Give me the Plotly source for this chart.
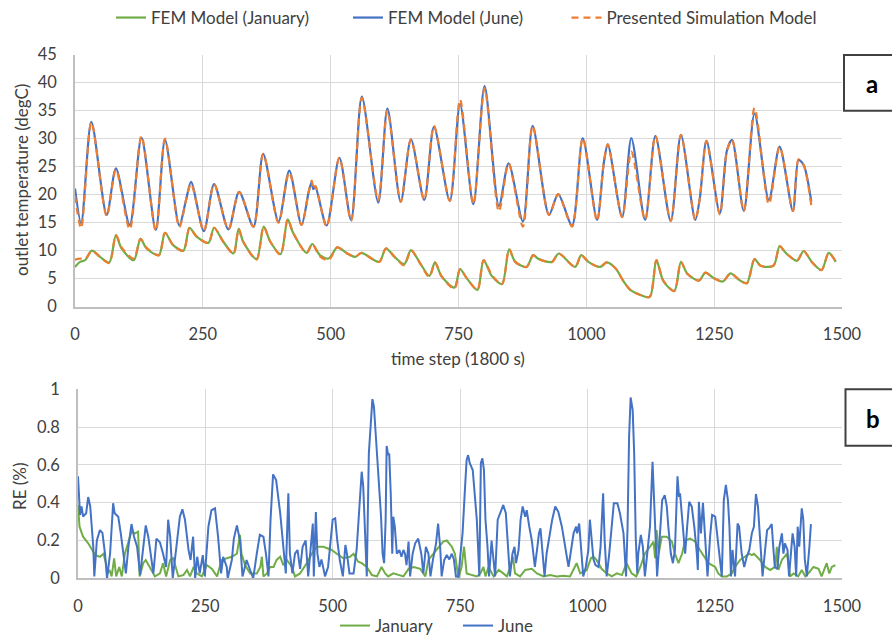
import plotly.graph_objects as go

# ---------------- Data ----------------
# Panel a: outlet temperature (degC)
june_x = [0, 12, 32, 62, 80, 107, 130, 158, 176, 204, 217, 227, 252, 272, 300, 321, 349, 368, 398, 419,
          443, 457, 463, 466, 470, 492, 517, 540, 561, 593, 611, 637, 657, 683, 702, 733, 753, 779, 801, 829,
          848, 876, 895, 927, 945, 972, 993, 1021, 1034, 1042, 1070, 1088, 1115, 1135, 1165, 1185, 1213, 1222,
          1235, 1261, 1275, 1285, 1308, 1329, 1357, 1378, 1404, 1415, 1425, 1440]
june_fem = [21.1, 14.9, 33.0, 16.4, 24.7, 14.6, 30.2, 13.7, 29.8, 14.5, 19.0, 22.3, 13.5, 21.9, 13.8, 20.5,
            14.3, 27.3, 15.2, 24.3, 14.6, 20.5, 22.3, 21.0, 21.4, 14.5, 26.6, 15.5, 37.5, 18.6, 35.4, 18.75,
            29.9, 19.05, 32.1, 18.9, 36.2, 18.3, 39.4, 18.0, 25.6, 15.2, 32.3, 16.4, 20.1, 14.5, 30.1, 15.5,
            25.6, 29.0, 16.0, 30.1, 15.5, 30.5, 15.3, 30.7, 15.5, 19.4, 29.6, 16.7, 27.9, 29.8, 17.1, 34.5,
            19.05, 28.6, 17.1, 26.2, 25.3, 18.75]
june_sim = [19.8, 14.0, 33.0, 16.2, 24.5, 13.8, 30.5, 13.5, 30.0, 14.2, 19.0, 22.0, 13.5, 21.9, 13.8, 20.5,
            14.3, 27.3, 15.0, 24.0, 14.6, 20.5, 22.5, 21.0, 21.6, 14.3, 26.6, 15.3, 37.3, 19.0, 35.0, 18.75,
            29.9, 19.05, 32.3, 18.9, 37.0, 18.3, 39.0, 17.0, 25.6, 14.3, 32.3, 16.4, 20.1, 14.3, 30.1, 15.3,
            25.6, 29.0, 16.0, 27.7, 15.5, 30.5, 15.3, 30.7, 15.5, 19.4, 29.6, 16.5, 27.9, 29.8, 17.1, 35.5,
            18.3, 28.6, 17.1, 26.3, 25.3, 18.0]

jan_x = [0, 10, 20, 33, 49, 67, 80, 91, 115, 128, 140, 164, 176, 192, 212, 224, 238, 261, 272, 290,
         310, 320, 329, 355, 369, 382, 402, 416, 427, 453, 464, 479, 496, 513, 531, 548, 560, 595, 608, 626,
         644, 657, 675, 693, 704, 717, 742, 753, 766, 787, 799, 815, 835, 849, 861, 883, 896, 907, 933, 946,
         978, 990, 1004, 1027, 1040, 1057, 1073, 1086, 1106, 1124, 1137, 1151, 1172, 1185, 1197, 1220, 1233,
         1249, 1267, 1282, 1301, 1314, 1329, 1341, 1366, 1378, 1390, 1412, 1425, 1441, 1460, 1474, 1488]
jan_fem = [7.1, 8.0, 8.3, 10.0, 8.9, 7.9, 12.8, 10.4, 8.3, 12.1, 10.4, 9.2, 13.2, 11.0, 10.0, 14.1, 12.5,
           11.4, 14.1, 11.6, 9.5, 13.9, 11.6, 8.5, 14.3, 11.6, 9.4, 15.6, 13.1, 9.6, 11.2, 9.2, 8.6, 10.6,
           9.6, 8.9, 9.6, 8.0, 10.4, 8.8, 7.6, 10.1, 7.75, 5.5, 7.9, 5.4, 3.4, 6.7, 5.1, 3.0, 8.3, 5.5, 4.05,
           10.25, 8.0, 7.1, 9.2, 8.5, 8.0, 9.5, 7.1, 9.2, 8.0, 7.1, 7.9, 6.85, 4.5, 3.0, 2.1, 1.7, 8.3, 4.5,
           2.8, 8.0, 5.95, 4.65, 6.1, 5.1, 4.5, 5.95, 4.65, 4.2, 8.5, 7.3, 7.3, 10.8, 9.6, 8.2, 9.95, 8.0,
           6.55, 9.6, 8.0]
jan_sim = [8.4, 8.6, 8.5, 10.0, 8.9, 7.8, 12.8, 10.6, 8.6, 12.1, 10.5, 9.2, 13.2, 11.0, 10.0, 14.1, 12.5,
           11.4, 14.1, 11.6, 9.4, 13.9, 11.6, 8.4, 14.3, 11.6, 9.3, 15.6, 13.1, 9.6, 11.2, 9.0, 8.3, 10.6,
           9.6, 8.9, 9.6, 8.0, 10.4, 8.8, 7.4, 10.1, 7.75, 5.3, 7.9, 5.4, 3.2, 6.7, 5.1, 3.0, 8.3, 5.7, 4.0,
           10.25, 8.0, 7.1, 9.2, 8.5, 8.0, 9.5, 7.1, 9.2, 8.0, 7.1, 7.9, 6.85, 4.5, 3.0, 2.1, 1.8, 8.3, 4.6,
           2.8, 8.0, 5.95, 4.65, 6.1, 5.1, 4.5, 5.95, 4.65, 4.2, 8.5, 7.3, 7.4, 10.8, 9.6, 8.2, 9.95, 8.0,
           6.55, 9.6, 8.0]

# Panel b: relative error RE (%)
re_june_x = [0, 4, 7, 10, 16, 20, 24, 27, 30, 32, 37, 43, 48, 53, 57, 63, 69, 72, 79, 84, 89, 94, 99, 105,
             110, 116, 122, 127, 133, 138, 143, 148, 154, 161, 167, 173, 177, 181, 186, 194, 200, 205, 210,
             217, 221, 226, 230, 234, 239, 245, 249, 256, 262, 269, 275, 281, 285, 292, 294, 302, 306, 312,
             318, 323, 331, 338, 344, 351, 357, 364, 369, 374, 378, 383, 389, 397, 403, 408, 413, 416, 421,
             426, 431, 436, 441, 447, 452, 457, 461, 463, 467, 470, 474, 478, 485, 491, 496, 500, 505, 509,
             514, 520, 525, 528, 533, 541, 547, 552, 557, 560, 563, 567, 571, 575, 578, 581, 586, 592, 595,
             598, 601, 604, 606, 609, 611, 614, 617, 619, 622, 626, 631, 635, 639, 642, 645, 649, 652, 657,
             662, 668, 674, 678, 683, 688, 692, 697, 703, 707, 711, 714, 719, 724, 729, 734, 738, 742, 747,
             751, 755, 760, 763, 766, 769, 775, 779, 783, 786, 788, 791, 794, 797, 800, 804, 807, 812, 815,
             819, 824, 829, 835, 840, 844, 848, 853, 857, 860, 865, 869, 873, 878, 881, 886, 891, 894, 897,
             902, 905, 908, 912, 916, 920, 926, 931, 937, 943, 950, 956, 963, 967, 973, 978, 980, 984, 989,
             992, 997, 1002, 1005, 1009, 1012, 1016, 1022, 1026, 1031, 1034, 1038, 1043, 1048, 1052, 1059,
             1064, 1071, 1074, 1076, 1079, 1082, 1085, 1089, 1092, 1095, 1098, 1100, 1105, 1109, 1113, 1118,
             1123, 1128, 1131, 1134, 1137, 1143, 1147, 1152, 1156, 1159, 1164, 1168, 1172, 1177, 1180, 1182,
             1185, 1188, 1192, 1196, 1200, 1205, 1210, 1215, 1217, 1219, 1223, 1227, 1231, 1236, 1241, 1245,
             1251, 1255, 1259, 1264, 1268, 1272, 1276, 1279, 1282, 1285, 1290, 1295, 1298, 1303, 1308, 1313,
             1318, 1323, 1327, 1331, 1335, 1338, 1341, 1344, 1349, 1353, 1357, 1362, 1365, 1368, 1373, 1377,
             1382, 1385, 1388, 1393, 1396, 1400, 1403, 1407, 1410, 1413, 1416, 1421, 1424, 1427, 1431, 1436,
             1439]
re_june = [0.54, 0.335, 0.38, 0.326, 0.344, 0.43, 0.38, 0.29, 0.167, 0.01, 0.2, 0.255, 0.24, 0.13, 0.0,
           0.13, 0.397, 0.344, 0.326, 0.238, 0.13, 0.026, 0.167, 0.287, 0.22, 0.167, 0.017, 0.13, 0.28, 0.22,
           0.13, 0.026, 0.21, 0.19, 0.13, 0.06, 0.31, 0.22, 0.0, 0.2, 0.326, 0.365, 0.31, 0.15, 0.097, 0.22,
           0.0, 0.114, 0.026, 0.123, 0.01, 0.273, 0.36, 0.37, 0.22, 0.026, 0.114, 0.06, 0.0, 0.097, 0.21,
           0.28, 0.2, 0.01, 0.097, 0.044, 0.0, 0.13, 0.23, 0.22, 0.13, 0.01, 0.31, 0.55, 0.52, 0.344, 0.167,
           0.026, 0.45, 0.13, 0.026, 0.13, 0.15, 0.05, 0.167, 0.2, 0.01, 0.16, 0.29, 0.01, 0.35, 0.13, 0.06,
           0.1, 0.01, 0.06, 0.22, 0.31, 0.317, 0.2, 0.097, 0.01, 0.176, 0.13, 0.026, 0.026, 0.15, 0.38, 0.564,
           0.485, 0.273, 0.01, 0.66, 0.855, 0.948, 0.91, 0.7, 0.467, 0.326, 0.13, 0.08, 0.31, 0.7, 0.652,
           0.66, 0.45, 0.13, 0.326, 0.273, 0.13, 0.15, 0.114, 0.15, 0.13, 0.07, 0.194, 0.01, 0.13, 0.185,
           0.21, 0.13, 0.026, 0.167, 0.13, 0.01, 0.1, 0.185, 0.29, 0.167, 0.01, 0.097, 0.123, 0.1, 0.13, 0.1,
           0.01, 0.01, 0.13, 0.238, 0.485, 0.626, 0.652, 0.61, 0.573, 0.45, 0.31, 0.13, 0.01, 0.61, 0.635,
           0.573, 0.31, 0.167, 0.01, 0.2, 0.13, 0.01, 0.31, 0.344, 0.388, 0.344, 0.167, 0.01, 0.13, 0.167,
           0.08, 0.15, 0.31, 0.38, 0.326, 0.36, 0.273, 0.2, 0.13, 0.06, 0.167, 0.238, 0.265, 0.13, 0.01,
           0.13, 0.238, 0.31, 0.38, 0.352, 0.273, 0.167, 0.06, 0.13, 0.238, 0.273, 0.238, 0.29, 0.13, 0.01,
           0.06, 0.15, 0.31, 0.167, 0.1, 0.07, 0.06, 0.167, 0.45, 0.2, 0.01, 0.13, 0.273, 0.397, 0.397,
           0.344, 0.238, 0.13, 0.01, 0.273, 0.75, 0.957, 0.89, 0.66, 0.22, 0.026, 0.13, 0.23, 0.167, 0.01,
           0.13, 0.273, 0.617, 0.45, 0.22, 0.01, 0.255, 0.414, 0.44, 0.38, 0.273, 0.13, 0.08, 0.15, 0.54,
           0.43, 0.45, 0.365, 0.273, 0.13, 0.273, 0.405, 0.38, 0.273, 0.13, 0.044, 0.405, 0.238, 0.4, 0.2,
           0.01, 0.22, 0.335, 0.326, 0.22, 0.13, 0.01, 0.414, 0.494, 0.414, 0.273, 0.01, 0.15, 0.01, 0.29,
           0.273, 0.13, 0.06, 0.114, 0.15, 0.238, 0.273, 0.446, 0.38, 0.238, 0.13, 0.01, 0.15, 0.255, 0.265,
           0.287, 0.167, 0.06, 0.05, 0.167, 0.238, 0.13, 0.185, 0.15, 0.01, 0.13, 0.238, 0.167, 0.01, 0.273,
           0.167, 0.37, 0.31, 0.1, 0.01, 0.167, 0.287]

re_jan_x = [0, 3, 10, 20, 28, 33, 43, 50, 55, 58, 62, 66, 71, 75, 81, 86, 92, 99, 105, 112, 118, 121, 128,
            133, 141, 151, 161, 167, 173, 181, 187, 197, 207, 214, 220, 227, 233, 243, 253, 263, 273, 282,
            292, 302, 312, 318, 321, 328, 338, 351, 358, 361, 364, 371, 377, 384, 390, 397, 403, 410, 420,
            426, 436, 449, 459, 469, 482, 492, 498, 508, 521, 534, 541, 550, 557, 567, 577, 587, 596, 603,
            609, 619, 629, 639, 649, 659, 672, 682, 688, 698, 708, 717, 724, 734, 740, 747, 753, 758, 763,
            773, 783, 790, 796, 800, 806, 816, 826, 835, 842, 849, 854, 858, 868, 878, 891, 901, 914, 927,
            940, 953, 966, 979, 986, 999, 1007, 1012, 1018, 1028, 1038, 1048, 1058, 1068, 1077, 1087, 1096,
            1104, 1113, 1123, 1130, 1133, 1136, 1140, 1146, 1156, 1166, 1172, 1179, 1186, 1192, 1202, 1212,
            1221, 1231, 1238, 1251, 1257, 1264, 1274, 1284, 1290, 1300, 1310, 1318, 1323, 1327, 1333, 1339,
            1349, 1359, 1369, 1372, 1375, 1382, 1392, 1398, 1405, 1414, 1421, 1428, 1434, 1444, 1454, 1460,
            1470, 1475, 1480, 1487]
re_jan = [0.388, 0.273, 0.22, 0.185, 0.15, 0.123, 0.114, 0.13, 0.08, 0.026, 0.044, 0.01, 0.106, 0.01,
          0.06, 0.01, 0.13, 0.2, 0.247, 0.238, 0.247, 0.01, 0.08, 0.097, 0.06, 0.01, 0.026, 0.08, 0.01,
          0.097, 0.106, 0.01, 0.017, 0.044, 0.01, 0.06, 0.026, 0.01, 0.07, 0.05, 0.01, 0.097, 0.106, 0.114,
          0.13, 0.23, 0.13, 0.07, 0.026, 0.026, 0.06, 0.114, 0.01, 0.026, 0.06, 0.06, 0.097, 0.114, 0.07,
          0.097, 0.06, 0.01, 0.026, 0.08, 0.13, 0.167, 0.167, 0.158, 0.15, 0.13, 0.106, 0.114, 0.13, 0.088,
          0.08, 0.06, 0.017, 0.01, 0.06, 0.026, 0.01, 0.026, 0.017, 0.01, 0.05, 0.06, 0.05, 0.01, 0.097,
          0.13, 0.167, 0.194, 0.2, 0.167, 0.13, 0.0, 0.06, 0.167, 0.026, 0.017, 0.01, 0.026, 0.06, 0.01,
          0.06, 0.01, 0.044, 0.026, 0.01, 0.06, 0.114, 0.026, 0.01, 0.044, 0.05, 0.026, 0.01, 0.017, 0.01,
          0.013, 0.01, 0.08, 0.026, 0.044, 0.106, 0.114, 0.097, 0.05, 0.026, 0.01, 0.026, 0.017, 0.08,
          0.026, 0.01, 0.06, 0.13, 0.167, 0.194, 0.106, 0.255, 0.13, 0.22, 0.22, 0.194, 0.13, 0.08, 0.13,
          0.2, 0.21, 0.194, 0.15, 0.106, 0.08, 0.06, 0.026, 0.01, 0.01, 0.026, 0.06, 0.097, 0.114, 0.13,
          0.123, 0.13, 0.114, 0.097, 0.06, 0.044, 0.06, 0.167, 0.044, 0.097, 0.13, 0.01, 0.026, 0.01, 0.044,
          0.01, 0.026, 0.06, 0.05, 0.01, 0.08, 0.026, 0.06, 0.07]

x_ticks = [0, 250, 500, 750, 1000, 1250, 1500]

GREEN = "#70ad47"
BLUE = "#4472c4"
ORANGE = "#ed7d31"
FONT = "Lato"
W, H = 892, 636
PAD = "\u2002"  # en space used to widen legend entry spacing

fig = go.Figure()

# Panel a
fig.add_trace(go.Scatter(x=jan_x, y=jan_fem, mode="lines", name="FEM Model (January)" + PAD * 4,
                         line=dict(color=GREEN, width=2.2, shape="spline", smoothing=0.8),
                         xaxis="x", yaxis="y", legend="legend"))
fig.add_trace(go.Scatter(x=june_x, y=june_fem, mode="lines", name="FEM Model (June)" + PAD * 4 + "\u00a0",
                         line=dict(color=BLUE, width=2.2, shape="spline", smoothing=0.8),
                         xaxis="x", yaxis="y", legend="legend"))
fig.add_trace(go.Scatter(x=jan_x, y=jan_sim, mode="lines", name="Presented Simulation Model",
                         line=dict(color=ORANGE, width=2.2, dash="7px,5px", shape="spline", smoothing=0.8),
                         xaxis="x", yaxis="y", legend="legend"))
fig.add_trace(go.Scatter(x=june_x, y=june_sim, mode="lines", name="Presented Simulation Model",
                         showlegend=False,
                         line=dict(color=ORANGE, width=2.2, dash="7px,5px", shape="spline", smoothing=0.8),
                         xaxis="x", yaxis="y", legend="legend"))

# Panel b
fig.add_trace(go.Scatter(x=re_jan_x, y=re_jan, mode="lines", name="January",
                         line=dict(color=GREEN, width=2),
                         xaxis="x2", yaxis="y2", legend="legend2"))
fig.add_trace(go.Scatter(x=re_june_x, y=re_june, mode="lines", name="June",
                         line=dict(color=BLUE, width=2),
                         xaxis="x2", yaxis="y2", legend="legend2"))

tickfont = dict(family=FONT, size=16.5, color="#404040")
common_x = dict(range=[0, 1500], tickvals=x_ticks, showgrid=True, gridcolor="#d9d9d9", gridwidth=1.3,
                showline=True, linecolor="#bfbfbf", linewidth=1.5, zeroline=False, ticks="",
                tickfont=tickfont, ticklabelstandoff=12, automargin=False)
common_y = dict(showgrid=True, gridcolor="#d9d9d9", gridwidth=1.3, showline=True, linecolor="#bfbfbf",
                linewidth=1.5, zeroline=False, ticks="", tickfont=tickfont, ticklabelstandoff=13,
                automargin=False)

fig.update_layout(
    width=W, height=H,
    margin=dict(l=0, r=0, t=0, b=0, autoexpand=False),
    paper_bgcolor="white", plot_bgcolor="white",
    font=dict(family=FONT, size=17, color="#404040"),
    xaxis=dict(domain=[75 / W, 842 / W], anchor="y", **common_x),
    yaxis=dict(domain=[1 - 306.7 / H, 1 - 54.7 / H], anchor="x", range=[0, 45], dtick=5, **common_y),
    xaxis2=dict(domain=[78 / W, 842 / W], anchor="y2", **common_x),
    yaxis2=dict(domain=[1 - 578.3 / H, 1 - 389.3 / H], anchor="x2", range=[0, 1],
                tickvals=[0, 0.2, 0.4, 0.6, 0.8, 1], ticktext=["0", "0.2", "0.4", "0.6", "0.8", "1"],
                **common_y),
    legend=dict(orientation="h", x=111 / W, xanchor="left", y=1 - 18 / H, yanchor="middle",
                font=dict(family=FONT, size=17, color="#404040"), bgcolor="rgba(0,0,0,0)"),
    legend2=dict(orientation="h", x=335 / W, xanchor="left", y=1 - 626 / H, yanchor="middle",
                 entrywidth=78, entrywidthmode="pixels",
                 font=dict(family=FONT, size=17, color="#404040"), bgcolor="rgba(0,0,0,0)"),
    showlegend=True,
)

ann_font = dict(family=FONT, size=17, color="#404040")
# Axis titles
fig.add_annotation(x=22 / W, y=1 - 180 / H, xref="paper", yref="paper", text="outlet temperature (degC)",
                   textangle=-90, showarrow=False, xanchor="center", yanchor="middle", font=ann_font)
fig.add_annotation(x=458 / W, y=1 - 358 / H, xref="paper", yref="paper", text="time step (1800 s)",
                   showarrow=False, xanchor="center", yanchor="middle", font=ann_font)
fig.add_annotation(x=19 / W, y=1 - 486 / H, xref="paper", yref="paper", text="RE (%)",
                   textangle=-90, showarrow=False, xanchor="center", yanchor="middle", font=ann_font)

# Panel label boxes
fig.add_shape(type="rect", xref="paper", yref="paper", x0=844 / W, x1=895 / W,
              y0=1 - 110.7 / H, y1=1 - 55 / H, line=dict(color="#404040", width=2), fillcolor="white")
fig.add_annotation(x=872 / W, y=1 - 84 / H, xref="paper", yref="paper", text="<b>a</b>",
                   showarrow=False, xanchor="center", yanchor="middle",
                   font=dict(family=FONT, size=24, color="black"))
fig.add_shape(type="rect", xref="paper", yref="paper", x0=845.5 / W, x1=895 / W,
              y0=1 - 445.7 / H, y1=1 - 389.3 / H, line=dict(color="#404040", width=2), fillcolor="white")
fig.add_annotation(x=873 / W, y=1 - 418 / H, xref="paper", yref="paper", text="<b>b</b>",
                   showarrow=False, xanchor="center", yanchor="middle",
                   font=dict(family=FONT, size=24, color="black"))

fig.write_html("out.html")
